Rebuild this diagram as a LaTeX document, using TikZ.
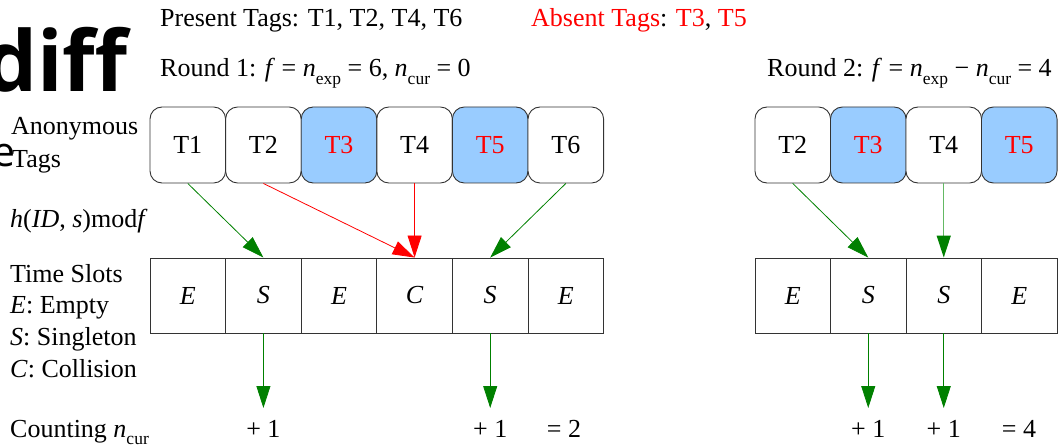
\documentclass[tikz,border=0pt]{standalone}
\usepackage{fontspec}
\setmainfont{Liberation Serif}
\newfontfamily\bigsans{Open Sans}
\usetikzlibrary{arrows.meta}
\definecolor{tagblue}{RGB}{153,204,255}
\definecolor{dgreen}{RGB}{0,128,0}
\definecolor{lgreen}{RGB}{100,185,100}
\newcommand\lo[1]{\raisebox{-0.28em}{\fontsize{17.5}{18}\selectfont #1}}
\begin{document}
\begin{tikzpicture}[x=1pt,y=-1pt,
  txt/.style={font=\fontsize{26}{30}\selectfont, inner sep=0pt, anchor=base west},
  ctxt/.style={font=\fontsize{26}{30}\selectfont, inner sep=0pt, anchor=base},
  tagbox/.style={draw=black!80, line width=0.9pt, rounded corners=12pt, minimum width=75.6pt, minimum height=76pt, inner sep=0pt, font=\fontsize{26}{30}\selectfont, fill=white},
  absent/.style={tagbox, fill=tagblue, text=red},
  slotbox/.style={draw=black!80, line width=0.9pt, minimum width=75.6pt, minimum height=75pt, inner sep=0pt, font=\fontsize{26}{30}\selectfont\itshape},
  garrow/.style={draw=dgreen, line width=0.8pt, -{Triangle[length=22pt,width=14pt]}, color=dgreen},
  rarrow/.style={draw=red, line width=0.8pt, -{Triangle[length=22pt,width=14pt]}, color=red},
  larrow/.style={draw=lgreen, line width=1.3pt, -{Triangle[length=22pt,width=14pt,color=dgreen,fill=dgreen]}}
]
\useasboundingbox (0,0) rectangle (1064,446);

% stray large texts
\node[inner sep=0pt, anchor=base west, font=\bigsans\bfseries\fontsize{84}{90}\selectfont] (diff) at (-16,92) {dif{}f};
\node[inner sep=0pt, anchor=base west, font=\bigsans\fontsize{41}{45}\selectfont] (ee) at (-8,167) {e};

% header texts
\node[txt] (present) at (160,27) {Present Tags: T1, T2, T4, T6};
\node[txt] (absent) at (531,27) {\textcolor{red}{Absent Tags}: \textcolor{red}{T3}, \textcolor{red}{T5}};
\node[txt] (r1) at (160,77) {Round 1: \textit{f} = \textit{n}\lo{exp} = 6, \textit{n}\lo{cur} = 0};
\node[txt] (r2) at (767,77) {Round 2: \textit{f} = \textit{n}\lo{exp} − \textit{n}\lo{cur} = 4};

% left labels
\node[txt] (anon) at (11,135) {Anonymous};
\node[txt] (tags) at (12,168) {Tags};
\node[txt] (hash) at (10,227) {\textit{h}(\textit{ID}, \textit{s})mod\textit{f}};
\node[txt] (ts) at (10,282) {Time Slots};
\node[txt] (le) at (10,313) {\textit{E}: Empty};
\node[txt] (ls) at (10,345) {\textit{S}: Singleton};
\node[txt] (lc) at (10,377) {\textit{C}: Collision};
\node[txt] (cnt) at (10,437) {Counting \textit{n}\lo{cur}};

% round 1 tags
\node[tagbox] (a1) at (187.8,145) {T1};
\node[tagbox] (a2) at (263.4,145) {T2};
\node[absent] (a3) at (339.0,145) {T3};
\node[tagbox] (a4) at (414.6,145) {T4};
\node[absent] (a5) at (490.2,145) {T5};
\node[tagbox] (a6) at (565.8,145) {T6};

% round 1 slots
\node[slotbox] (s1) at (187.8,295.5) {E};
\node[slotbox] (s2) at (263.4,295.5) {S};
\node[slotbox] (s3) at (339.0,295.5) {E};
\node[slotbox] (s4) at (414.6,295.5) {C};
\node[slotbox] (s5) at (490.2,295.5) {S};
\node[slotbox] (s6) at (565.8,295.5) {E};

% round 2 tags
\node[tagbox] (b1) at (792.75,145) {T2};
\node[absent] (b2) at (868.25,145) {T3};
\node[tagbox] (b3) at (943.75,145) {T4};
\node[absent] (b4) at (1019.25,145) {T5};

% round 2 slots
\node[slotbox] (t1) at (792.75,295.5) {E};
\node[slotbox] (t2) at (868.25,295.5) {S};
\node[slotbox] (t3) at (943.75,295.5) {S};
\node[slotbox] (t4) at (1019.25,295.5) {E};

% mapping arrows
\draw[garrow] (a1.south) -- (s2.north);
\draw[rarrow] (a2.south) -- (s4.north);
\draw[rarrow] (a4.south) -- (s4.north);
\draw[garrow] (a6.south) -- (s5.north);
\draw[garrow] (b1.south) -- (t2.north);
\draw[larrow] (b3.south) -- (t3.north);

% counting
\coordinate (c1) at (263.4,408);
\coordinate (c2) at (490.2,408);
\coordinate (c3) at (868.25,408);
\coordinate (c4) at (943.75,408);
\draw[garrow] (s2.south) -- (c1);
\draw[garrow] (s5.south) -- (c2);
\draw[garrow] (t2.south) -- (c3);
\draw[garrow] (t3.south) -- (c4);
\node[ctxt] (p1) at (263.4,437) {+ 1};
\node[ctxt] (p2) at (490.2,437) {+ 1};
\node[ctxt] (eq1) at (564,437) {= 2};
\node[ctxt] (p3) at (868.25,437) {+ 1};
\node[ctxt] (p4) at (943.75,437) {+ 1};
\node[ctxt] (eq2) at (1019,437) {= 4};
\end{tikzpicture}
\end{document}
